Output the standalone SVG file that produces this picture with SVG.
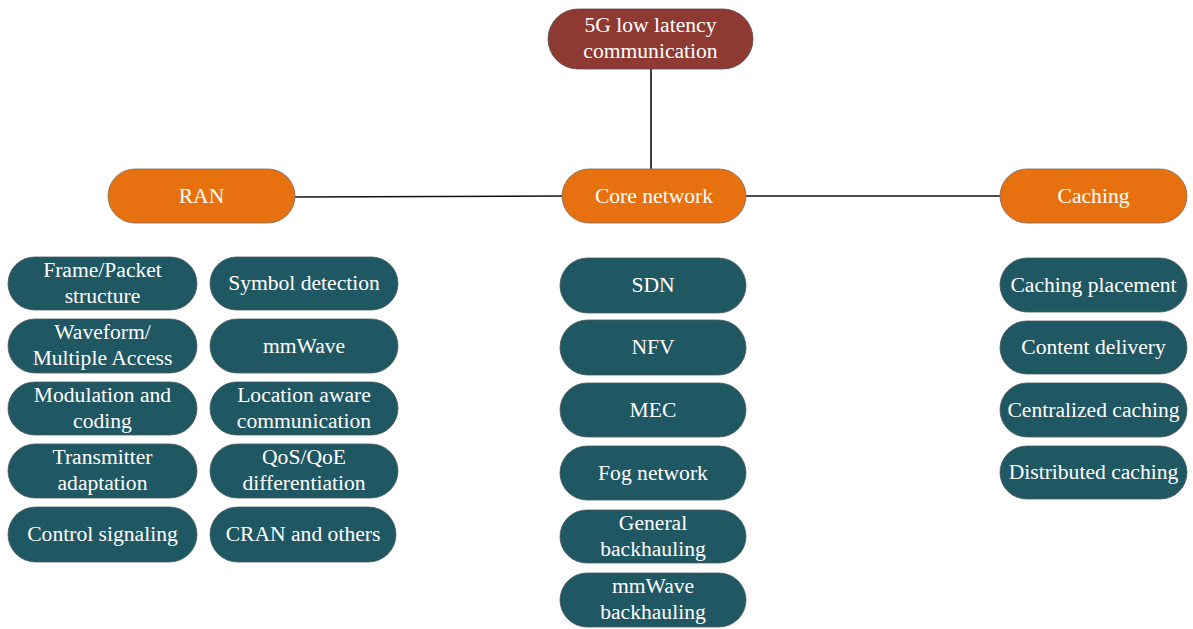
<svg xmlns="http://www.w3.org/2000/svg" width="1193" height="629" viewBox="0 0 1193 629">
<style>
text{font-family:"Liberation Serif","Times New Roman",serif;font-size:21.6px;fill:#ffffff;text-anchor:middle}
.root{fill:#8E3A33;stroke:#5a4a48;stroke-width:0.8}
.cat{fill:#E8710F;stroke:#7a6a5e;stroke-width:0.8}
.leaf{fill:#1F5763;stroke:#4a5a5e;stroke-width:0.8}
.conn{stroke:#111;stroke-width:1.6;fill:none}
</style>
<rect width="1193" height="629" fill="#ffffff"/>
<g id="connectors">
<line class="conn" x1="651" y1="69" x2="651" y2="170"/>
<line class="conn" x1="295" y1="197" x2="562" y2="196"/>
<line class="conn" x1="746" y1="196" x2="1000" y2="196"/>
</g>
<g id="root"><rect class="root" x="548" y="9" width="205" height="60" rx="30"/><text x="650.5" y="32">5G low latency</text><text x="650.5" y="58">communication</text></g>
<g id="ran"><rect class="cat" x="108" y="169" width="187" height="54" rx="27"/><text x="201.5" y="203">RAN</text></g>
<g id="core"><rect class="cat" x="562" y="169" width="184" height="54" rx="27"/><text x="654" y="203">Core network</text></g>
<g id="caching"><rect class="cat" x="1000" y="169" width="187" height="54" rx="27"/><text x="1093.5" y="203">Caching</text></g>

<g id="frame"><rect class="leaf" x="8" y="257" width="189" height="53" rx="26.5"/><text x="102.5" y="277">Frame/Packet</text><text x="102.5" y="303">structure</text></g>
<g id="waveform"><rect class="leaf" x="8" y="319" width="189" height="54" rx="27"/><text x="102.5" y="339">Waveform/</text><text x="102.5" y="365">Multiple Access</text></g>
<g id="modulation"><rect class="leaf" x="8" y="382" width="189" height="53" rx="26.5"/><text x="102.5" y="402">Modulation and</text><text x="102.5" y="428">coding</text></g>
<g id="transmitter"><rect class="leaf" x="8" y="444" width="189" height="54" rx="27"/><text x="102.5" y="464">Transmitter</text><text x="102.5" y="490">adaptation</text></g>
<g id="control"><rect class="leaf" x="8" y="507" width="189" height="55" rx="27.5"/><text x="102.5" y="541">Control signaling</text></g>

<g id="symbol"><rect class="leaf" x="210" y="257" width="188" height="53" rx="26.5"/><text x="304" y="290">Symbol detection</text></g>
<g id="mmwave"><rect class="leaf" x="210" y="319" width="188" height="54" rx="27"/><text x="304" y="353">mmWave</text></g>
<g id="location"><rect class="leaf" x="210" y="382" width="188" height="53" rx="26.5"/><text x="304" y="402">Location aware</text><text x="304" y="428">communication</text></g>
<g id="qos"><rect class="leaf" x="210" y="444" width="188" height="54" rx="27"/><text x="304" y="464">QoS/QoE</text><text x="304" y="490">differentiation</text></g>
<g id="cran"><rect class="leaf" x="210" y="507" width="186" height="55" rx="27.5"/><text x="303" y="541">CRAN and others</text></g>

<g id="sdn"><rect class="leaf" x="560" y="258" width="186" height="55" rx="27.5"/><text x="653" y="292">SDN</text></g>
<g id="nfv"><rect class="leaf" x="560" y="320" width="186" height="55" rx="27.5"/><text x="653" y="354">NFV</text></g>
<g id="mec"><rect class="leaf" x="560" y="383" width="186" height="54" rx="27"/><text x="653" y="417">MEC</text></g>
<g id="fog"><rect class="leaf" x="560" y="446" width="186" height="54" rx="27"/><text x="653" y="480">Fog network</text></g>
<g id="general"><rect class="leaf" x="560" y="510" width="186" height="53" rx="26.5"/><text x="653" y="530">General</text><text x="653" y="556">backhauling</text></g>
<g id="mmwaveback"><rect class="leaf" x="560" y="573" width="186" height="54" rx="27"/><text x="653" y="593">mmWave</text><text x="653" y="619">backhauling</text></g>

<g id="placement"><rect class="leaf" x="1000" y="258" width="187" height="54" rx="27"/><text x="1093.5" y="292">Caching placement</text></g>
<g id="content"><rect class="leaf" x="1000" y="321" width="187" height="53" rx="26.5"/><text x="1093.5" y="354">Content delivery</text></g>
<g id="centralized"><rect class="leaf" x="1000" y="383" width="187" height="54" rx="27"/><text x="1093.5" y="417">Centralized caching</text></g>
<g id="distributed"><rect class="leaf" x="1000" y="446" width="187" height="53" rx="26.5"/><text x="1093.5" y="479">Distributed caching</text></g>
</svg>
